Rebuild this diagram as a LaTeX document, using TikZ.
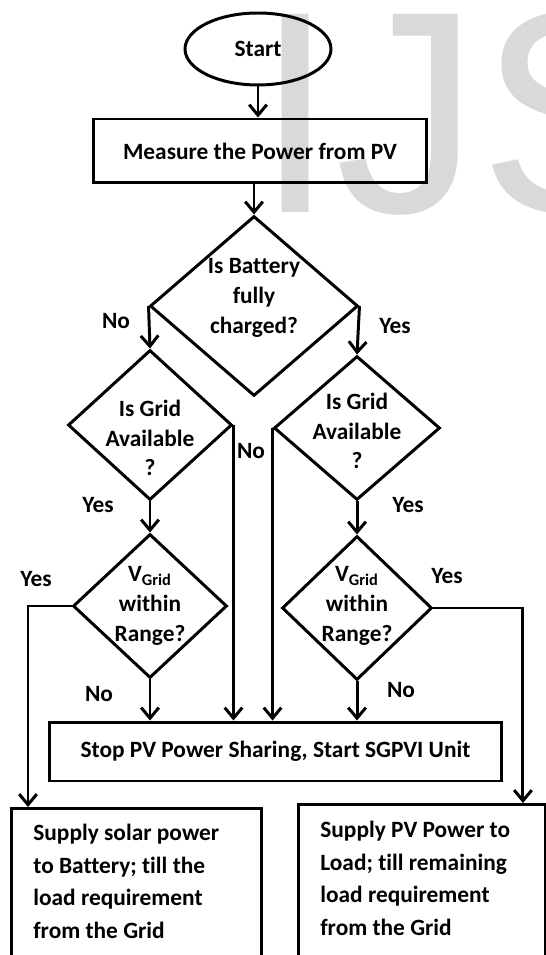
\documentclass[tikz,border=0pt]{standalone}
\usepackage{fontspec}
\setmainfont{Carlito}[Ligatures=NoCommon]
\newfontfamily\wmfont{Liberation Sans}
\usetikzlibrary{arrows.meta, shapes.geometric}

\tikzset{
    flow/.style={line width=1.7pt},
    chartfont/.style={font=\bfseries\fontsize{13.3}{17}\selectfont},
    startnode/.style={ellipse, draw, flow, chartfont, minimum width=2.92cm, minimum height=1.44cm},
    procbox/.style={rectangle, draw, flow, chartfont},
    decision/.style={diamond, draw, flow, inner sep=0pt},
    dtext/.style={chartfont, align=center, inner sep=0pt},
    outbox/.style={rectangle, draw, flow, anchor=north west, minimum height=4cm},
    outtext/.style={font=\bfseries\fontsize{13.3}{18.5}\selectfont, align=left, anchor=north west, inner sep=0pt},
    lbl/.style={chartfont, inner sep=0pt},
    wm/.style={font=\wmfont\fontsize{164}{164}\selectfont, text=black!15, inner sep=0pt, anchor=base west}
}

\begin{document}
\begin{tikzpicture}[x=0.02cm, y=-0.02cm, >={Straight Barb[length=6pt,width=10pt]}]
    \useasboundingbox (0,0) rectangle (545,955);

    % watermark behind the chart
    \node[wm] (wmark) at (255,213) {IJS};

    % ==========================================
    % Start and measurement
    % ==========================================
    \node[startnode] (start) at (258,49) {Start};
    \node[procbox, minimum width=6.68cm, minimum height=1.28cm] (measure) at (260,151) {Measure the Power from PV};

    % ==========================================
    % Decisions
    % ==========================================
    \node[decision, minimum width=4.16cm, minimum height=3.6cm] (battery) at (254,306) {};
    \node[dtext] (batterytxt) at (254,298) {Is Battery\\fully\\charged?};

    \node[decision, minimum width=3.28cm, minimum height=3cm] (gridL) at (150,425) {};
    \node[dtext] (gridLtxt) at (150,438) {Is Grid\\Available\\?};
    \node[decision, minimum width=3.32cm, minimum height=2.88cm] (gridR) at (357,428) {};
    \node[dtext] (gridRtxt) at (357,431) {Is Grid\\Available\\?};

    \node[decision, minimum width=3.08cm, minimum height=2.88cm] (voltL) at (150,606) {};
    \node[dtext] (voltLtxt) at (150,606) {V\textsubscript{Grid}\\within\\Range?};
    \node[decision, minimum width=3cm, minimum height=2.88cm] (voltR) at (357,608) {};
    \node[dtext] (voltRtxt) at (357,606) {V\textsubscript{Grid}\\within\\Range?};

    % ==========================================
    % Actions
    % ==========================================
    \node[procbox, minimum width=9.06cm, minimum height=1.18cm] (stop) at (275.5,751.5) {Stop PV Power Sharing, Start SGPVI Unit};

    \node[outbox, minimum width=5cm] (solar) at (10,807) {};
    \node[outtext] (solartxt) at (33,824) {Supply solar power\\to Battery; till the\\load requirement\\from the Grid};
    \node[outbox, minimum width=4.94cm] (pv) at (297,803) {};
    \node[outtext] (pvtxt) at (320,821) {Supply PV Power to\\Load; till remaining\\load requirement\\from the Grid};

    % ==========================================
    % Connectors
    % ==========================================
    \draw[->, flow] (start.south) -- (start.south |- measure.north);
    \draw[->, flow] (measure.south -| battery.north) -- (battery.north);
    \draw[->, flow] (battery.west) -- (gridL.north);
    \draw[->, flow] (battery.east) -- (gridR.north);
    \draw[->, flow] (gridL.south) -- (voltL.north);
    \draw[->, flow] (gridR.south) -- (voltR.north);
    \draw[->, flow] (gridL.east) -- (gridL.east |- stop.north);
    \draw[->, flow] (gridR.west) -- (gridR.west |- stop.north);
    \draw[->, flow] (voltL.south) -- (voltL.south |- stop.north);
    \draw[->, flow] (voltR.south) -- (voltR.south |- stop.north);
    \draw[->, flow] (voltL.west) -| ([xshift=0.36cm]solar.north west);
    \draw[->, flow] (voltR.east) -| ([xshift=-0.48cm]pv.north east);

    % branch labels
    \node[lbl] (noBat) at (116,321) {No};
    \node[lbl] (yesBat) at (395,326) {Yes};
    \node[lbl] (yesGridL) at (98,505) {Yes};
    \node[lbl] (yesGridR) at (408,505) {Yes};
    \node[lbl] (noGrid) at (251,451) {No};
    \node[lbl] (yesVoltL) at (36,579) {Yes};
    \node[lbl] (yesVoltR) at (447,576) {Yes};
    \node[lbl] (noVoltL) at (99,694) {No};
    \node[lbl] (noVoltR) at (401,690) {No};

\end{tikzpicture}
\end{document}
